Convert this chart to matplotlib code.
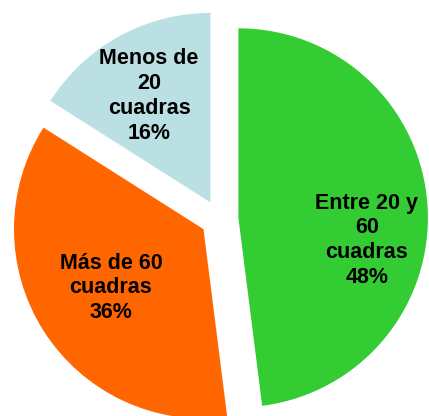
import matplotlib
matplotlib.use("Agg")
import matplotlib.pyplot as plt

categories = ["Entre 20 y\n60\ncuadras", "Más de 60\ncuadras", "Menos de\n20\ncuadras"]
values = [48, 36, 16]
colors = ["#33CC33", "#FF6600", "#BBE0E3"]
explode = [0.1, 0.1, 0.1]
# label positions in axes data units (pie radius = 1)
label_pos = [(0.778, -0.113), (-0.573, -0.364), (-0.372, 0.649)]

W, H = 429, 416
cx, cy, r = 219.5, 219.0, 189.5

fig = plt.figure(figsize=(W / 100, H / 100), dpi=100)
ax = fig.add_axes([0, 0, 1, 1])
wedges, _ = ax.pie(values, colors=colors, explode=explode, startangle=90,
                   counterclock=False, radius=1.0,
                   wedgeprops=dict(linewidth=0, antialiased=True))
for cat, v, (x, y) in zip(categories, values, label_pos):
    ax.text(x, y, f"{cat}\n{v}%", ha="center", va="center",
            fontsize=15.5, fontweight="bold", family=["Liberation Sans", "DejaVu Sans"],
            linespacing=1.24, color="black")
ax.set_xlim(-cx / r, (W - cx) / r)
ax.set_ylim(-(H - cy) / r, cy / r)
ax.set_aspect("auto")
ax.axis("off")
fig.savefig("out.png", dpi=100)
